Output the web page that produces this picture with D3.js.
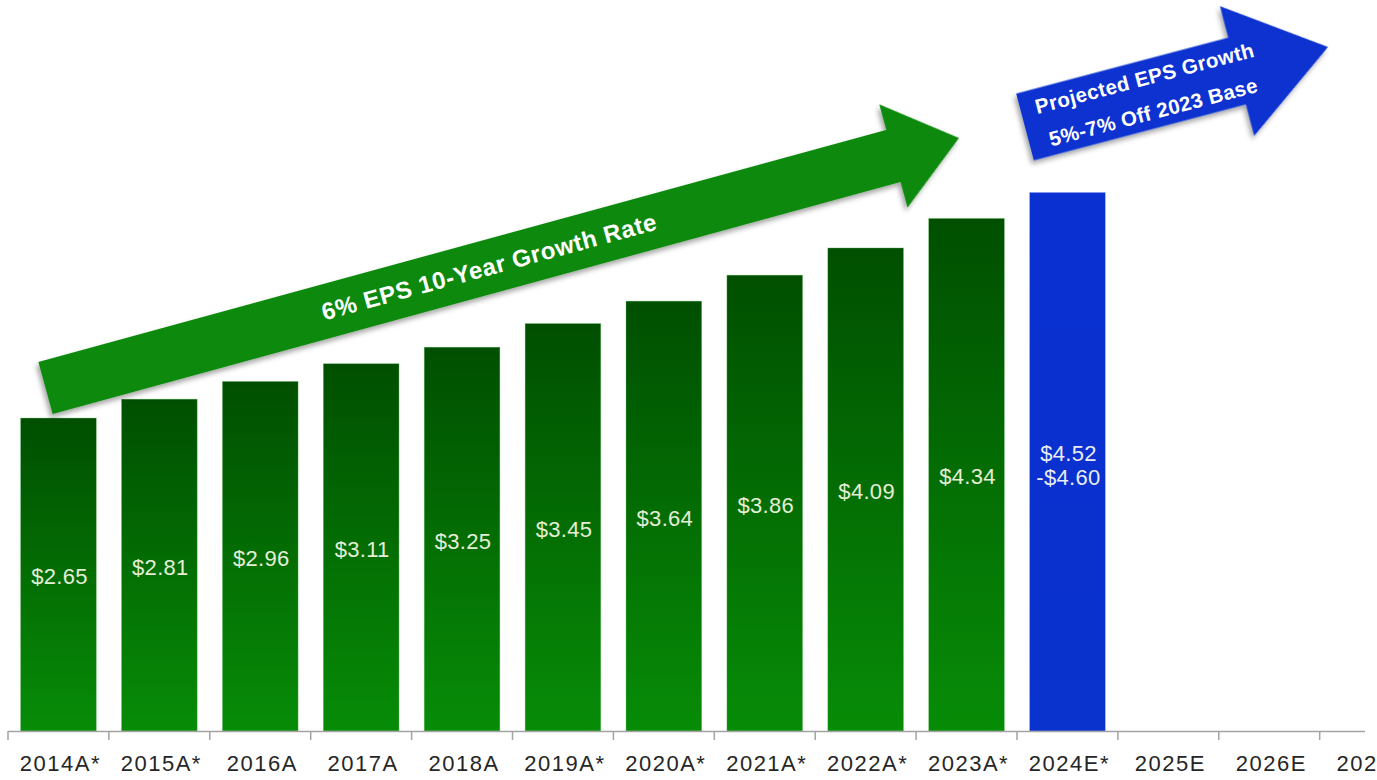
<!DOCTYPE html>
<html>
<head>
<meta charset="utf-8">
<script src="https://cdn.jsdelivr.net/npm/d3@7"></script>
<style>
  html, body { margin: 0; padding: 0; background: #ffffff; }
  svg { display: block; }
</style>
</head>
<body>
<svg id="chart" width="1377" height="780"></svg>
<script>
// ---------- DATA ----------
const categories = ["2014A*","2015A*","2016A","2017A","2018A","2019A*","2020A*","2021A*","2022A*","2023A*","2024E*","2025E","2026E","2027E"];
const actualEps = [2.65, 2.81, 2.96, 3.11, 3.25, 3.45, 3.64, 3.86, 4.09, 4.34];
const guidanceLow = 4.52;
const guidanceHigh = 4.60;
const guidanceCategory = "2024E*";
const actualLabels = ["$2.65","$2.81","$2.96","$3.11","$3.25","$3.45","$3.64","$3.86","$4.09","$4.34"];
const guidanceLabels = ["$4.52", "-$4.60"];
const greenArrowText = ["6% EPS 10-Year Growth Rate"];
const blueArrowText = ["Projected EPS Growth", "5%-7% Off 2023 Base"];

// ---------- SETUP ----------
const svg = d3.select("#chart");
const baseY = 731;
const pxPerDollar = 118.1;
const y = d3.scaleLinear().domain([0, 5]).range([baseY, baseY - 5 * pxPerDollar]);
const step = 100.9;
const x = d3.scaleBand().domain(categories)
  .range([8, 8 + categories.length * step])
  .paddingInner(0.25).paddingOuter(0.125);

const defs = svg.append("defs");
const gg = defs.append("linearGradient").attr("id","greenGrad").attr("x1",0).attr("y1",0).attr("x2",0).attr("y2",1);
gg.append("stop").attr("offset","0%").attr("stop-color","#004f00");
gg.append("stop").attr("offset","100%").attr("stop-color","#078c07");
const bg = defs.append("linearGradient").attr("id","blueGrad").attr("x1",0).attr("y1",0).attr("x2",0).attr("y2",1);
bg.append("stop").attr("offset","0%").attr("stop-color","#0a30d2");
bg.append("stop").attr("offset","100%").attr("stop-color","#0a32cc");
const sh = defs.append("filter").attr("id","shadow").attr("x","-10%").attr("y","-30%").attr("width","120%").attr("height","160%");
sh.append("feDropShadow").attr("dx",-3).attr("dy",3).attr("stdDeviation",2.5).attr("flood-color","#000").attr("flood-opacity",0.35);

// ---------- BARS ----------
const actualData = actualEps.map((v,i)=>({cat:categories[i], v, label: actualLabels[i]}));
svg.append("g").selectAll("rect").data(actualData).join("rect")
  .attr("x", d => x(d.cat))
  .attr("y", d => y(d.v))
  .attr("width", x.bandwidth())
  .attr("height", d => y(0) - y(d.v))
  .attr("fill", "url(#greenGrad)")
  .attr("stroke", "#6fbf6f").attr("stroke-width", 0.6).attr("stroke-opacity", 0.6);

const guideMid = (guidanceLow + guidanceHigh) / 2;
svg.append("rect")
  .attr("x", x(guidanceCategory))
  .attr("y", y(guideMid))
  .attr("width", x.bandwidth())
  .attr("height", y(0) - y(guideMid))
  .attr("fill", "url(#blueGrad)")
  .attr("stroke", "#8fa0ff").attr("stroke-width", 0.6).attr("stroke-opacity", 0.6);

// value labels
svg.append("g").selectAll("text").data(actualData).join("text")
  .attr("x", d => x(d.cat) + x.bandwidth()/2 + 1)
  .attr("y", d => (y(d.v) + y(0))/2 + 2)
  .attr("text-anchor","middle")
  .attr("dominant-baseline","central")
  .attr("font-family","'Liberation Sans', Arial, sans-serif")
  .attr("font-size", 22)
  .attr("letter-spacing", 0.3)
  .attr("fill","#e4efd6")
  .text(d => d.label);

const gmid = (y(guideMid) + y(0))/2;
svg.append("g").selectAll("text").data(guidanceLabels).join("text")
  .attr("x", x(guidanceCategory) + x.bandwidth()/2 + 1)
  .attr("y", (d,i) => gmid - 8.5 + i*24)
  .attr("text-anchor","middle")
  .attr("dominant-baseline","central")
  .attr("font-family","'Liberation Sans', Arial, sans-serif")
  .attr("font-size", 22)
  .attr("letter-spacing", 0.3)
  .attr("fill","#e8ecf4")
  .text(d => d);

// ---------- AXIS ----------
const axisG = svg.append("g");
const axisEnd = 1365;
axisG.append("line")
  .attr("x1", 8).attr("x2", axisEnd)
  .attr("y1", baseY + 0.5).attr("y2", baseY + 0.5)
  .attr("stroke", "#a3a3a3").attr("stroke-width", 1.5);
const boundaries = categories.map(c => x(c) - x.step()*x.paddingInner()/2).filter(v => v <= axisEnd);
axisG.selectAll("line.tick").data(boundaries).join("line")
  .attr("class","tick")
  .attr("x1", d => d).attr("x2", d => d)
  .attr("y1", baseY).attr("y2", baseY + 9)
  .attr("stroke", "#a3a3a3").attr("stroke-width", 1.5);
axisG.selectAll("text").data(categories).join("text")
  .attr("x", d => x(d) + x.bandwidth()/2 + 2)
  .attr("y", 771)
  .attr("text-anchor","middle")
  .attr("font-family","'Liberation Sans', Arial, sans-serif")
  .attr("font-size", 22)
  .attr("letter-spacing", 1.5)
  .attr("fill","#262626")
  .text(d => d);

// ---------- ARROWS ----------
function drawArrow(cfg) {
  const dx = cfg.tip[0] - cfg.tail[0], dy = cfg.tip[1] - cfg.tail[1];
  const L = Math.hypot(dx, dy);
  const ang = Math.atan2(dy, dx) * 180 / Math.PI;
  const s = cfg.shaft/2, h = cfg.headW/2, b = L - cfg.headL;
  const pts = [[0,-s],[b,-s],[b,-h],[L,0],[b,h],[b,s],[0,s]];
  const g = svg.append("g").attr("transform", `translate(${cfg.tail[0]},${cfg.tail[1]}) rotate(${ang})`);
  g.append("path")
    .attr("d", d3.line()(pts) + "Z")
    .attr("fill", cfg.color)
    .attr("filter", "url(#shadow)");
  g.selectAll("text").data(cfg.text).join("text")
    .attr("x", cfg.textAlong)
    .attr("y", (d,i) => cfg.textOffsets[i])
    .attr("text-anchor","middle")
    .attr("dominant-baseline","central")
    .attr("font-family","'Liberation Sans', Arial, sans-serif")
    .attr("font-weight","bold")
    .attr("font-size", cfg.fontSize)
    .attr("letter-spacing", cfg.spacing)
    .attr("fill","#ffffff")
    .text(d => d);
}

drawArrow({
  tail: [45.5, 388], tip: [959, 138], shaft: 54, headW: 107, headL: 68,
  color: "#0a8a0a", text: greenArrowText, textAlong: 460, textOffsets: [0],
  fontSize: 24, spacing: 0.6
});
drawArrow({
  tail: [1025, 127], tip: [1328, 47], shaft: 69, headW: 134, headL: 94,
  color: "#0a30d0", text: blueArrowText, textAlong: 128, textOffsets: [-17, 18],
  fontSize: 20.5, spacing: 0.4
});
</script>
</body>
</html>
